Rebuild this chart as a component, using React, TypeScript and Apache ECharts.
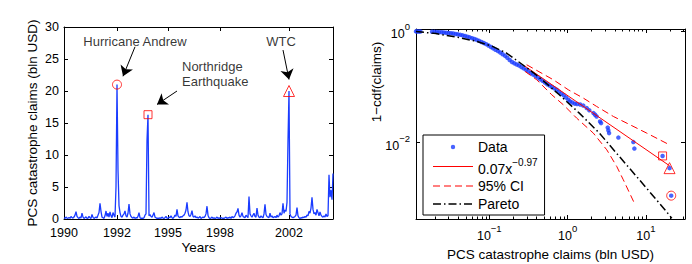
import React, { useEffect, useRef } from 'react';
import * as echarts from 'echarts';

// ---------- Left panel: PCS catastrophe claims over time ----------
const claims = [
  0.2, 0.1, 0.3, 0.15, 0.1, 0.25, 0.1, 0.4, 0.2, 0.15,
  0.3, 0.6, 1.15, 0.4, 0.2, 0.1, 0.3, 0.15, 0.9, 0.3,
  0.1, 0.2, 0.35, 0.1, 0.15, 0.4, 0.2, 0.1, 0.7, 0.25,
  0.1, 0.2, 0.3, 0.15, 0.6, 1.0, 2.45, 1.2, 0.3, 0.2,
  0.1, 0.5, 1.25, 0.4, 0.9, 0.3, 1.1, 0.5, 0.2, 1.0,
  0.6, 0.3, 5.0, 21.0, 7.7, 2.1, 1.0, 0.4, 0.3, 0.6,
  0.8, 1.25, 0.5, 0.3, 0.9, 2.35, 0.8, 0.4, 0.2, 0.15,
  0.3, 0.1, 0.2, 0.15, 0.4, 1.0, 0.2, 0.1, 0.15, 0.1,
  0.2, 0.6, 0.8, 12.3, 16.3, 0.5, 0.7, 0.4, 0.3, 0.6,
  1.0, 0.3, 0.2, 0.1, 0.15, 0.1, 0.2, 0.1, 0.3, 0.15,
  0.1, 0.2, 0.4, 0.15, 0.1, 0.3, 0.2, 0.5, 0.2, 0.1,
  0.3, 0.6, 0.4, 1.5, 0.5, 0.3, 0.2, 0.4, 0.3, 0.5,
  0.6, 0.9, 1.4, 2.6, 1.1, 0.5, 0.4, 0.7, 1.3, 0.4,
  0.3, 0.5, 0.2, 0.3, 0.15, 0.2, 0.4, 0.1, 0.2, 0.3,
  0.2, 0.4, 0.8, 2.0, 0.6, 0.2, 0.1, 0.15, 0.3, 0.1,
  0.2, 0.1, 0.15, 0.3, 0.1, 0.2, 0.1, 0.25, 0.1, 0.15,
  0.1, 0.2, 0.3, 0.1, 0.2, 0.15, 0.3, 0.1, 0.4, 0.2,
  0.3, 0.5, 0.9, 1.1, 1.65, 0.6, 0.3, 0.5, 1.0, 0.4,
  0.3, 0.2, 0.6, 0.4, 0.2, 3.5, 0.8, 0.5, 0.3, 0.6,
  0.9, 0.4, 0.3, 1.7, 0.6, 0.3, 0.2, 0.5, 0.3, 0.2,
  0.8, 2.3, 0.7, 0.4, 0.3, 0.2, 0.9, 0.3, 0.5, 0.2,
  0.3, 0.4, 0.2, 0.6, 0.3, 0.5, 1.0, 0.6, 0.8, 2.45,
  0.9, 1.4, 1.2, 2.6, 12.3, 20.0, 0.8, 0.4, 0.3, 0.2,
  0.3, 0.4, 0.6, 1.8, 0.5, 0.2, 0.1, 0.2, 0.15, 0.3,
  0.2, 0.4, 0.3, 0.6, 0.5, 1.2, 0.9, 1.7, 3.4, 1.5,
  0.8, 1.0, 0.6, 1.5, 1.0, 0.5, 1.1, 0.6, 0.4, 0.3,
  0.5, 0.3, 0.8, 0.4, 0.5, 6.9, 3.4, 4.5, 3.0, 7.1,
];
const yearLabels = ['1990', '1992', '1995', '1998', '2002'];
const yearTickIdx = [0, 53, 104, 156, 225];

const eventNames = ['Hurricane Andrew', 'Northridge\nEarthquake', 'WTC'];
const eventIdx = [53, 84, 225];
const eventClaims = [21.0, 16.3, 20.0];
const eventTail = [0.00111, 0.00575, 0.00347];
const eventSymbols = ['circle', 'rect', 'triangle'];
const eventSymbolSizes = [9, 8, 11];
const noteAt = [[71, 27.7], [118, 22.6], [217, 27.7]];
const noteAlign = ['center', 'left', 'center'];
const arrowFrom = [[71, 26.9], [113, 20.0], [219, 26.4]];
const arrowTo = [[59, 22.3], [93, 17.9], [225, 21.8]];

// ---------- Right panel: empirical tail 1-cdf ----------
const sizeX = [
  0.0116, 0.0120, 0.0126, 0.0132, 0.0186, 0.0200, 0.0214, 0.0229, 0.0246, 0.0263,
  0.0282, 0.0302, 0.0324, 0.0347, 0.0372, 0.0398, 0.0427, 0.0457, 0.0490, 0.0525,
  0.0562, 0.0603, 0.0646, 0.0692, 0.0741, 0.0794, 0.0851, 0.0912, 0.0977, 0.105,
  0.112, 0.120, 0.129, 0.138, 0.148, 0.159, 0.170, 0.182, 0.195, 0.209,
  0.224, 0.240, 0.257, 0.275, 0.295, 0.316, 0.339, 0.363, 0.389, 0.417,
  0.447, 0.479, 0.513, 0.550, 0.589, 0.631, 0.676, 0.724, 0.776, 0.832,
  0.891, 0.955, 1.023, 1.072, 1.148, 1.230, 1.318, 1.445, 1.585, 1.754,
  1.892, 2.138, 2.239, 2.344, 2.594, 2.673, 3.251, 3.311, 3.381, 4.446,
  6.902, 7.112, 16.3, 20.0, 21.0,
];
const tailY = [
  1.0, 0.998, 0.995, 0.993, 0.986, 0.982, 0.977, 0.971, 0.964, 0.957,
  0.948, 0.938, 0.927, 0.914, 0.899, 0.885, 0.867, 0.847, 0.826, 0.804,
  0.780, 0.755, 0.729, 0.703, 0.676, 0.646, 0.617, 0.589, 0.556, 0.525,
  0.495, 0.468, 0.442, 0.417, 0.389, 0.363, 0.335, 0.305, 0.282, 0.266,
  0.254, 0.243, 0.229, 0.216, 0.204, 0.191, 0.178, 0.168, 0.158, 0.148,
  0.138, 0.129, 0.120, 0.112, 0.106, 0.100, 0.0944, 0.0891, 0.0822, 0.0759,
  0.0708, 0.0646, 0.0589, 0.0550, 0.0525, 0.0501, 0.0495, 0.0484, 0.0462, 0.0417,
  0.0380, 0.0339, 0.0316, 0.0295, 0.0240, 0.0224, 0.0186, 0.0166, 0.0148, 0.0123,
  0.0102, 0.0078, 0.00575, 0.00347, 0.00111,
];
const fitX = [0.285, 20];
const fitY = [0.237, 0.00383];
const ciUpX = [0.30, 0.656, 1.02, 1.585, 2.344, 3.837, 6.266, 10.23, 20.0];
const ciUpY = [0.251, 0.135, 0.0891, 0.0631, 0.0447, 0.0295, 0.0209, 0.0148, 0.0091];
const ciLoX = [0.286, 0.403, 0.627, 0.881, 1.306, 2.128, 3.162, 4.236, 5.14, 7.11];
const ciLoY = [0.1905, 0.1349, 0.0724, 0.0479, 0.0275, 0.0148, 0.00741, 0.00372, 0.00214, 0.000813];
const paretoX = [0.0116, 0.0209, 0.0376, 0.0692, 0.110, 0.166, 0.267, 0.363, 0.530, 0.783, 1.409, 2.541, 4.571, 8.241, 14.83, 21.38];
const paretoY = [0.995, 0.912, 0.794, 0.661, 0.537, 0.407, 0.251, 0.182, 0.1175, 0.0724, 0.0339, 0.0148, 0.00562, 0.00214, 0.000813, 0.000437];
const minorTicks = [0.02, 0.03, 0.04, 0.05, 0.06, 0.07, 0.08, 0.09, 0.2, 0.3, 0.4, 0.5, 0.6, 0.7, 0.8, 0.9, 2, 3, 4, 5, 6, 7, 8, 9, 20, 30];

const FIT = '0.07x^-0.97';
const CI = '95% CI';
const FONT = '"Liberation Sans", Arial, Helvetica, sans-serif';
const BLUE = '#1a3cff';
const RED = '#ff0000';
const MINUS = '\u2212';

const supLabel = (v: number) => {
  const e = Math.round(Math.log10(v));
  return `{b|10}{s|${e < 0 ? MINUS + -e : e}}`;
};
const tickRich = {
  b: { fontSize: 12.5, fontFamily: FONT, color: '#000', verticalAlign: 'bottom' },
  s: { fontSize: 9.5, fontFamily: FONT, color: '#000', verticalAlign: 'top' },
};
const axisLine = { show: true, onZero: false, lineStyle: { color: '#000', width: 1 } };
const tickStyle = { show: true, inside: true, length: 4, lineStyle: { color: '#000', width: 1 } };
const nameStyle = { fontSize: 13.5, fontFamily: FONT, color: '#000' };
const cats = claims.map((_, i) => String(i));
const isYearTick = (i: number) => yearTickIdx.indexOf(i) >= 0;

// legend icons (40 x 14 boxes; the two tiny corner specks fix the box size)
const BOX = 'M0 0L0.01 0L0.01 0.01ZM40 14L39.99 14L39.99 13.99Z';
const dataIcon = `path://${BOX}M20 4.8A2.2 2.2 0 1 1 20 9.2A2.2 2.2 0 1 1 20 4.8Z`;
const fitIcon = `path://${BOX}M0 6.5H40V7.5H0Z`;
const ciIcon = `path://${BOX}M0 6.5H7V7.5H0ZM11 6.5H18V7.5H11ZM22 6.5H29V7.5H22ZM33 6.5H40V7.5H33Z`;
const paretoIcon = `path://${BOX}M0 6.25H8V7.75H0ZM11 6.25H12.5V7.75H11ZM15.5 6.25H23.5V7.75H15.5ZM26.5 6.25H28V7.75H26.5ZM31 6.25H39V7.75H31Z`;

export default function App() {
  const ref = useRef<HTMLDivElement>(null);
  useEffect(() => {
    if (!ref.current) return;
    const chart = echarts.init(ref.current, null, { renderer: 'svg' });
    const option: any = {
      animation: false,
      backgroundColor: '#fff',
      textStyle: { fontFamily: FONT },
      grid: [
        { left: 64, top: 27, width: 269, height: 192, containLabel: false, outerBoundsMode: 'none' },
        { left: 416, top: 29, width: 269, height: 190, containLabel: false, outerBoundsMode: 'none' },
      ],
      xAxis: [
        {
          type: 'category', gridIndex: 0, data: cats, boundaryGap: false, axisLine,
          axisTick: { ...tickStyle, interval: isYearTick },
          axisLabel: {
            interval: isYearTick, margin: 7, fontSize: 12.5, fontFamily: FONT, color: '#000',
            formatter: (_v: string, i: number) => yearLabels[yearTickIdx.indexOf(i)] ?? '',
          },
          splitLine: { show: false },
          name: 'Years', nameLocation: 'middle', nameGap: 21, nameMoveOverlap: false, nameTextStyle: nameStyle,
        },
        {
          type: 'category', gridIndex: 0, position: 'top', data: cats, boundaryGap: false, axisLine,
          axisTick: { ...tickStyle, interval: isYearTick }, axisLabel: { show: false }, splitLine: { show: false },
        },
        {
          type: 'log', gridIndex: 1, min: 0.0116, max: 31.5, axisLine, axisTick: tickStyle,
          axisLabel: { formatter: supLabel, rich: tickRich, lineHeight: 19, margin: 4, showMinLabel: false, showMaxLabel: false },
          splitLine: { show: false }, minorTick: { show: false },
          name: 'PCS catastrophe claims (bln USD)', nameLocation: 'middle', nameGap: 28, nameMoveOverlap: false, nameTextStyle: nameStyle,
        },
        {
          type: 'log', gridIndex: 1, position: 'top', min: 0.0116, max: 31.5, axisLine, axisTick: tickStyle,
          axisLabel: { show: false }, splitLine: { show: false },
        },
      ],
      yAxis: [
        {
          type: 'value', gridIndex: 0, min: 0, max: 30, interval: 5, axisLine, axisTick: tickStyle,
          axisLabel: { margin: 5, fontSize: 12.5, fontFamily: FONT, color: '#000', lineHeight: 12 },
          splitLine: { show: false },
          name: 'PCS catastrophe claims (bln USD)', nameLocation: 'middle', nameGap: 25, nameMoveOverlap: false, nameTextStyle: nameStyle,
        },
        {
          type: 'value', gridIndex: 0, position: 'right', min: 0, max: 30, interval: 5, axisLine, axisTick: tickStyle,
          axisLabel: { show: false }, splitLine: { show: false },
        },
        {
          type: 'log', logBase: 100, gridIndex: 1, min: 0.000422, max: 1.104, axisLine, axisTick: tickStyle,
          axisLabel: { formatter: supLabel, rich: tickRich, lineHeight: 19, margin: 6, showMinLabel: false, showMaxLabel: false },
          splitLine: { show: false },
          name: '1' + MINUS + 'cdf(claims)', nameLocation: 'middle', nameGap: 33, nameMoveOverlap: false,
          nameTextStyle: { ...nameStyle, padding: [0, 0, 0, 84] },
        },
        {
          type: 'log', logBase: 100, gridIndex: 1, position: 'right', min: 0.000422, max: 1.104, axisLine, axisTick: tickStyle,
          axisLabel: { show: false }, splitLine: { show: false },
        },
      ],
      legend: {
        orient: 'vertical', left: 423, top: 135,
        data: [
          { name: 'Data', icon: dataIcon },
          { name: FIT, icon: fitIcon },
          { name: CI, icon: ciIcon },
          { name: 'Pareto', icon: paretoIcon },
        ],
        itemWidth: 40, itemHeight: 14, itemGap: 2, padding: [4, 7, 3, 10],
        borderColor: '#000', borderWidth: 1, borderRadius: 0, backgroundColor: '#fff',
        selectedMode: false,
        formatter: (n: string) => (n === FIT ? `{b|0.07x}{s|${MINUS}0.97}` : n),
        textStyle: {
          fontSize: 14, fontFamily: FONT, color: '#000', lineHeight: 16,
          rich: {
            b: { fontSize: 14, fontFamily: FONT, color: '#000', verticalAlign: 'bottom', lineHeight: 19 },
            s: { fontSize: 10, fontFamily: FONT, color: '#000', verticalAlign: 'top', lineHeight: 19 },
          },
        },
      },
      series: [
        {
          type: 'line', name: 'claims', xAxisIndex: 0, yAxisIndex: 0, data: claims,
          symbol: 'none', showSymbol: false, color: BLUE, lineStyle: { color: BLUE, width: 1.3 }, silent: true,
          markLine: {
            silent: true, symbol: ['none', 'arrow'], symbolSize: 10, precision: 2,
            lineStyle: { color: '#000', width: 1, type: 'solid' }, label: { show: false },
            emphasis: { disabled: true },
            data: arrowFrom.map((f, k) => [{ coord: f }, { coord: arrowTo[k] }]),
          },
        },
        {
          type: 'scatter', name: 'events', xAxisIndex: 0, yAxisIndex: 0, silent: true, z: 5,
          data: eventIdx.map((ix, k) => ({ value: [ix, eventClaims[k]], symbol: eventSymbols[k], symbolSize: eventSymbolSizes[k] })),
          itemStyle: { color: 'rgba(0,0,0,0)', borderColor: RED, borderWidth: 1 },
        },
        {
          type: 'scatter', name: 'notes', xAxisIndex: 0, yAxisIndex: 0, silent: true, symbolSize: 1,
          itemStyle: { color: 'rgba(0,0,0,0)' },
          data: eventNames.map((n, k) => ({ value: noteAt[k], name: n, label: { align: noteAlign[k] } })),
          label: { show: true, position: 'inside', formatter: '{b}', fontSize: 13, fontFamily: FONT, color: '#000', lineHeight: 15 },
        },
        {
          type: 'scatter', name: 'Data', xAxisIndex: 2, yAxisIndex: 2, silent: true, symbolSize: 4.5, color: BLUE,
          itemStyle: { color: BLUE },
          data: sizeX.map((x, i) => [x, tailY[i]]),
        },
        {
          type: 'line', name: FIT, xAxisIndex: 2, yAxisIndex: 2, silent: true, symbol: 'none', color: RED,
          itemStyle: { color: RED }, lineStyle: { color: RED, width: 1 }, data: fitX.map((x, i) => [x, fitY[i]]),
        },
        {
          type: 'line', name: CI, xAxisIndex: 2, yAxisIndex: 2, silent: true, symbol: 'none', color: RED,
          itemStyle: { color: RED }, lineStyle: { color: RED, width: 1, type: [7, 4] }, data: ciUpX.map((x, i) => [x, ciUpY[i]]),
        },
        {
          type: 'line', name: CI, xAxisIndex: 2, yAxisIndex: 2, silent: true, symbol: 'none', color: RED,
          itemStyle: { color: RED }, lineStyle: { color: RED, width: 1, type: [7, 4] }, data: ciLoX.map((x, i) => [x, ciLoY[i]]),
        },
        {
          type: 'line', name: 'Pareto', xAxisIndex: 2, yAxisIndex: 2, silent: true, symbol: 'none', color: '#000',
          itemStyle: { color: '#000' }, lineStyle: { color: '#000', width: 1.5, type: [8, 3, 1.5, 3] }, data: paretoX.map((x, i) => [x, paretoY[i]]),
        },
        {
          type: 'scatter', name: 'tailEvents', xAxisIndex: 2, yAxisIndex: 2, silent: true, z: 5,
          data: eventClaims.map((c, k) => ({ value: [c, eventTail[k]], symbol: eventSymbols[k], symbolSize: eventSymbolSizes[k] })),
          itemStyle: { color: 'rgba(0,0,0,0)', borderColor: RED, borderWidth: 1 },
        },
        {
          type: 'custom', name: 'minorTicks', xAxisIndex: 2, yAxisIndex: 2, silent: true, clip: false,
          data: minorTicks.map((v) => [v, 1]),
          encode: { x: 0, y: 1 },
          renderItem: (params: any, api: any) => {
            const p = api.coord([api.value(0), 1]);
            const cs = params.coordSys;
            const x = Math.round(p[0]) + 0.5;
            const bottom = cs.y + cs.height;
            const top = cs.y;
            return {
              type: 'group',
              children: [
                { type: 'line', shape: { x1: x, y1: bottom, x2: x, y2: bottom - 2.5 }, style: { stroke: '#000', lineWidth: 1 } },
                { type: 'line', shape: { x1: x, y1: top, x2: x, y2: top + 2.5 }, style: { stroke: '#000', lineWidth: 1 } },
              ],
            };
          },
        },
      ],
    };
    chart.setOption(option);
    return () => chart.dispose();
  }, []);
  return (
    <div
      ref={ref}
      style={{ position: 'fixed', left: 0, top: 0, width: 692, height: 264, background: '#fff' }}
    />
  );
}
